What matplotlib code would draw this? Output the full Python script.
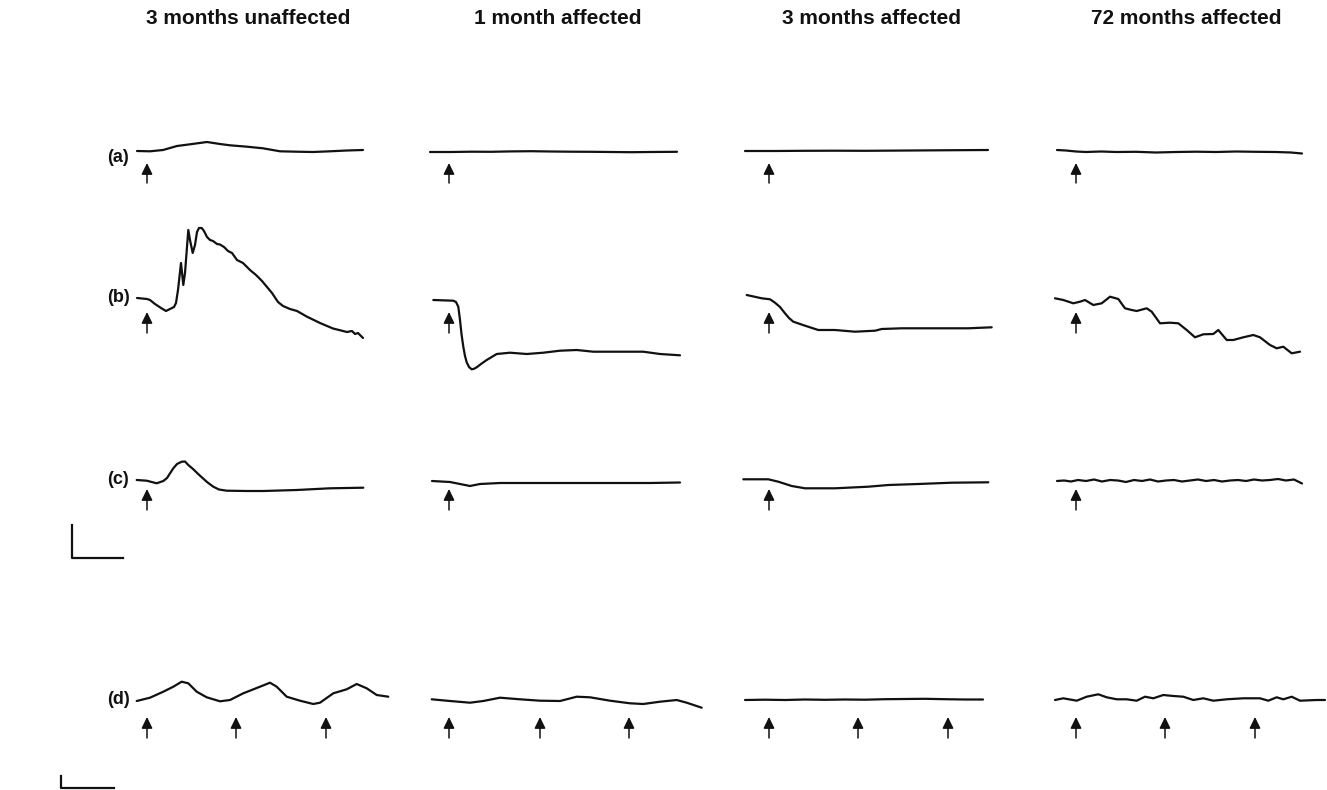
import matplotlib
matplotlib.use("Agg")
import matplotlib.pyplot as plt
from matplotlib.patches import FancyArrowPatch

# ---------------- data ----------------
col_titles = ["3 months unaffected", "1 month affected", "3 months affected", "72 months affected"]
row_labels = ["(a)", "(b)", "(c)", "(d)"]

# trace samples: time (relative units) and amplitude (relative units, up = positive)
a1_t = [0, 13, 26, 40, 53, 70, 83, 93, 110, 126, 143, 160, 176, 193, 210, 226]
a1_v = [0, -0.3, 1, 5, 6.7, 9, 7, 5.7, 4.3, 2.7, -0.3, -0.7, -1, -0.3, 0.5, 1]
a2_t = [-1, 20, 40, 60, 80, 100, 120, 140, 160, 180, 200, 220, 246]
a2_v = [-1, -1, -0.7, -0.8, -0.4, -0.2, -0.5, -0.7, -0.8, -1, -1.2, -1, -0.8]
a3_t = [0, 30, 60, 90, 120, 150, 180, 210, 243]
a3_v = [0, 0, 0.2, 0.3, 0.2, 0.4, 0.6, 0.8, 1]
a4_t = [1, 10, 20, 30, 45, 60, 80, 100, 120, 140, 160, 180, 200, 220, 235, 246]
a4_v = [1, 0.5, -0.5, -1, -0.5, -1, -0.8, -1.5, -1, -0.7, -1, -0.5, -0.8, -1, -1.5, -2.5]

b1_t = [0, 5, 10, 13, 18, 24, 29, 33, 37, 39, 41, 44, 46.3, 48, 51.3, 53, 55.7, 58, 60, 62, 64.7,
        67, 70, 73, 76, 80, 83, 87, 91, 95, 100, 106, 113, 119, 125, 130, 135, 141, 146, 153, 160,
        170, 183, 196, 210, 215, 218, 221, 224, 226]
b1_v = [0, -0.5, -1, -2, -6, -10, -13, -11, -9, -5, 8, 35, 13, 25, 68, 58, 45, 53, 66, 70, 70,
        67, 61, 58, 57, 54, 53.5, 51, 47, 45, 38, 35, 28, 23, 17, 11, 5, -4, -8, -11, -13,
        -18.7, -25, -30.5, -34, -33, -36, -35, -38, -40]
b2_t = [2.3, 22.3, 25, 27.3, 29, 30.5, 32.3, 34, 35.7, 38, 40.7, 43, 45.7, 50, 55.7, 65.7, 79,
        95.7, 112.3, 129, 145.7, 162.3, 179, 195.7, 212.3, 229, 249]
b2_v = [-2, -2.7, -4, -8.7, -22, -36, -48.7, -58, -64.3, -69, -71.3, -70.8, -69.3, -66, -62, -56,
        -54.7, -56, -54.7, -52.7, -52, -53.7, -53.7, -53.7, -53.7, -56, -57.3]
b3_t = [1.7, 16.7, 25, 30, 35, 40, 44, 48.3, 60, 73.3, 90, 110, 130, 136.7, 156.7, 190, 223.3, 246.7]
b3_v = [3, -0.3, -1.3, -4.7, -9, -15.3, -20, -23.7, -27.7, -32, -32, -33.7, -32.7, -31, -30.3,
        -30.3, -30.3, -29.3]
b4_t = [-1, 7.3, 17.3, 24, 29, 37.3, 45.7, 54, 62.3, 69, 75.7, 80.7, 90.7, 95.7, 104, 114, 122.3,
        130.7, 139, 147.3, 157.3, 162.3, 170.7, 177.3, 187.3, 197.3, 204, 214, 220.7, 227.3, 235.7, 244]
b4_v = [-0.3, -2, -5.3, -3.7, -2, -7, -5.3, 1.3, -1, -10.3, -12, -13, -10.3, -13.7, -25.3, -24.7,
        -25.3, -32, -39.3, -36.3, -36, -32, -42, -42, -39.3, -37, -39.3, -47, -50.3, -48.7, -55.3, -53.7]

c1_t = [-0.3, 9.7, 19.7, 26.3, 30, 36.3, 40, 44.7, 48, 51.3, 56, 63, 70, 76.3, 82, 89.7, 109.7,
        126.3, 159.7, 193, 226.3]
c1_v = [0, -0.7, -3.3, -1, 2, 11.7, 16, 18.3, 18.5, 15, 11, 4.3, -2, -6.7, -9.5, -10.7, -11,
        -11, -10, -8.3, -7.7]
c2_t = [1, 19, 29, 39, 49, 69, 119, 169, 219, 249]
c2_v = [-1, -2, -4, -6, -4, -3, -3, -3, -3, -2.5]
c3_t = [-1.7, 23.3, 33.3, 46.7, 60, 90, 123.3, 143.3, 173.3, 206.7, 243.3]
c3_v = [0.7, 0.7, -1.7, -6, -8.3, -8.3, -6.7, -5, -4, -2.7, -2.3]
c4_t = [1, 8, 15, 22, 30, 38, 46, 54, 62, 70, 78, 86, 94, 102, 110, 118, 126, 134, 142, 150, 158,
        166, 174, 182, 190, 198, 206, 214, 222, 230, 238, 246]
c4_v = [-1, -0.5, -1.5, 0, -1, 0.5, -1.5, 0, -0.5, -2, 0, -1, 0.5, -1.5, -0.5, 0, -1.5, -0.5,
        0.5, -1, 0, -1.5, -0.5, 0, -1, 0.5, -0.5, 0, 1, -0.5, 0.5, -3.5]

d1_t = [-0.3, 13, 26.3, 36.3, 44.7, 51.3, 59.7, 69.7, 83, 93, 106.3, 123, 133, 139.7, 149.7, 163,
        176.3, 183, 196.3, 209.7, 219.7, 229.7, 239.7, 251.3]
d1_v = [-1, 2.3, 8.3, 13.3, 18.3, 16.7, 8.3, 2.7, -1.3, 0, 6.7, 13.3, 17.3, 13.3, 3.3, -0.7, -4,
        -2.7, 6.7, 10.7, 16, 11.7, 5, 3.3]
d2_t = [0.7, 19, 39, 52.3, 69, 89, 109, 129, 145.7, 159, 179, 199, 212.3, 229, 245.7, 255.7, 270.7]
d2_v = [0.7, -1, -2.7, -1, 2.3, 0.7, -0.7, -1, 3.3, 2.7, -0.7, -3.3, -4, -1.7, 0, -2.7, -7.7]
d3_t = [0, 20, 40, 60, 80, 100, 120, 140, 160, 180, 200, 220, 238]
d3_v = [0, 0.3, 0, 0.5, 0.2, 0.5, 0.3, 0.8, 1, 1.2, 0.8, 0.5, 0.5]
d4_t = [-1, 7.3, 20.7, 30.7, 42.3, 50.7, 60.7, 70.7, 80.7, 89, 97.3, 107.3, 117.3, 127.3, 137.3,
        147.3, 157.3, 170.7, 187.3, 204, 212.3, 220.7, 227.3, 235.7, 244, 260.7, 269]
d4_v = [0, 1.7, -0.7, 3.3, 5.7, 2.7, 0.7, 0.7, -0.7, 3.3, 1.7, 5, 4, 3.3, 0, 1.7, -0.7, 0.7, 1.7,
        1.7, -0.7, 2.7, 0.7, 3.3, -0.7, 0, 0]

traces = [
    [(a1_t, a1_v), (a2_t, a2_v), (a3_t, a3_v), (a4_t, a4_v)],
    [(b1_t, b1_v), (b2_t, b2_v), (b3_t, b3_v), (b4_t, b4_v)],
    [(c1_t, c1_v), (c2_t, c2_v), (c3_t, c3_v), (c4_t, c4_v)],
    [(d1_t, d1_v), (d2_t, d2_v), (d3_t, d3_v), (d4_t, d4_v)],
]

# stimulus times (arrows) per column; row (d) has three stimuli
stim_single = [10, 18, 24, 20]
stim_repeat = [[10, 99, 189], [18, 109, 198], [24, 113, 203], [20, 109, 199]]

# scale bars (amplitude, time)
scale_upper_v, scale_upper_h = 33, 51
scale_lower_v, scale_lower_h = 12, 53

# ---------------- layout ----------------
W, H = 1327, 790
col_x0 = [137, 431, 745, 1056]
row_base = [151, 298, 480, 700]
arrow_tip = [-12, -14, -9, -17]
arrow_tail = [-32, -35, -30, -38]
title_x = [248, 558, 872, 1186]

plt.rcParams['font.family'] = ['Liberation Sans', 'DejaVu Sans']
fig = plt.figure(figsize=(W / 100, H / 100), dpi=100)
fig.patch.set_facecolor('white')

ink = '#111111'
pad_l, pad_r, half_h = 20, 290, 90
for r in range(4):
    for c in range(4):
        left = (col_x0[c] - pad_l) / W
        bottom = (H - (row_base[r] + half_h)) / H
        ax = fig.add_axes([left, bottom, (pad_l + pad_r) / W, 2 * half_h / H])
        ax.set_xlim(-pad_l, pad_r)
        ax.set_ylim(-half_h, half_h)
        ax.axis('off')
        t, v = traces[r][c]
        ax.plot(t, v, color=ink, lw=1.6, solid_joinstyle='round', solid_capstyle='round')
        stims = stim_repeat[c] if r == 3 else [stim_single[c]]
        for s in stims:
            arr = FancyArrowPatch((s, arrow_tail[r]), (s, arrow_tip[r]),
                                  arrowstyle='-|>,head_length=0.45,head_width=0.22',
                                  mutation_scale=15, color=ink, lw=1.1, shrinkA=0, shrinkB=0)
            ax.add_patch(arr)

# overlay for titles, row labels and scale bars
ov = fig.add_axes([0, 0, 1, 1])
ov.set_xlim(0, W)
ov.set_ylim(H, 0)
ov.axis('off')
ov.patch.set_alpha(0)
for c in range(4):
    ov.text(title_x[c], 19, col_titles[c], ha='center', va='center', fontsize=15,
            fontweight='bold', color=ink)
for r in range(4):
    ov.text(107, row_base[r] + 7 if r == 0 else row_base[r], row_labels[r], ha='left', va='center',
            fontsize=13, fontweight='bold', color=ink)

# upper scale bar
ov.plot([72, 72, 72 + scale_upper_h], [558 - scale_upper_v, 558, 558], color=ink, lw=1.6)
# lower scale bar
ov.plot([61, 61, 61 + scale_lower_h], [788 - scale_lower_v, 788, 788], color=ink, lw=1.6)

fig.savefig('out.png', dpi=100, facecolor='white')
